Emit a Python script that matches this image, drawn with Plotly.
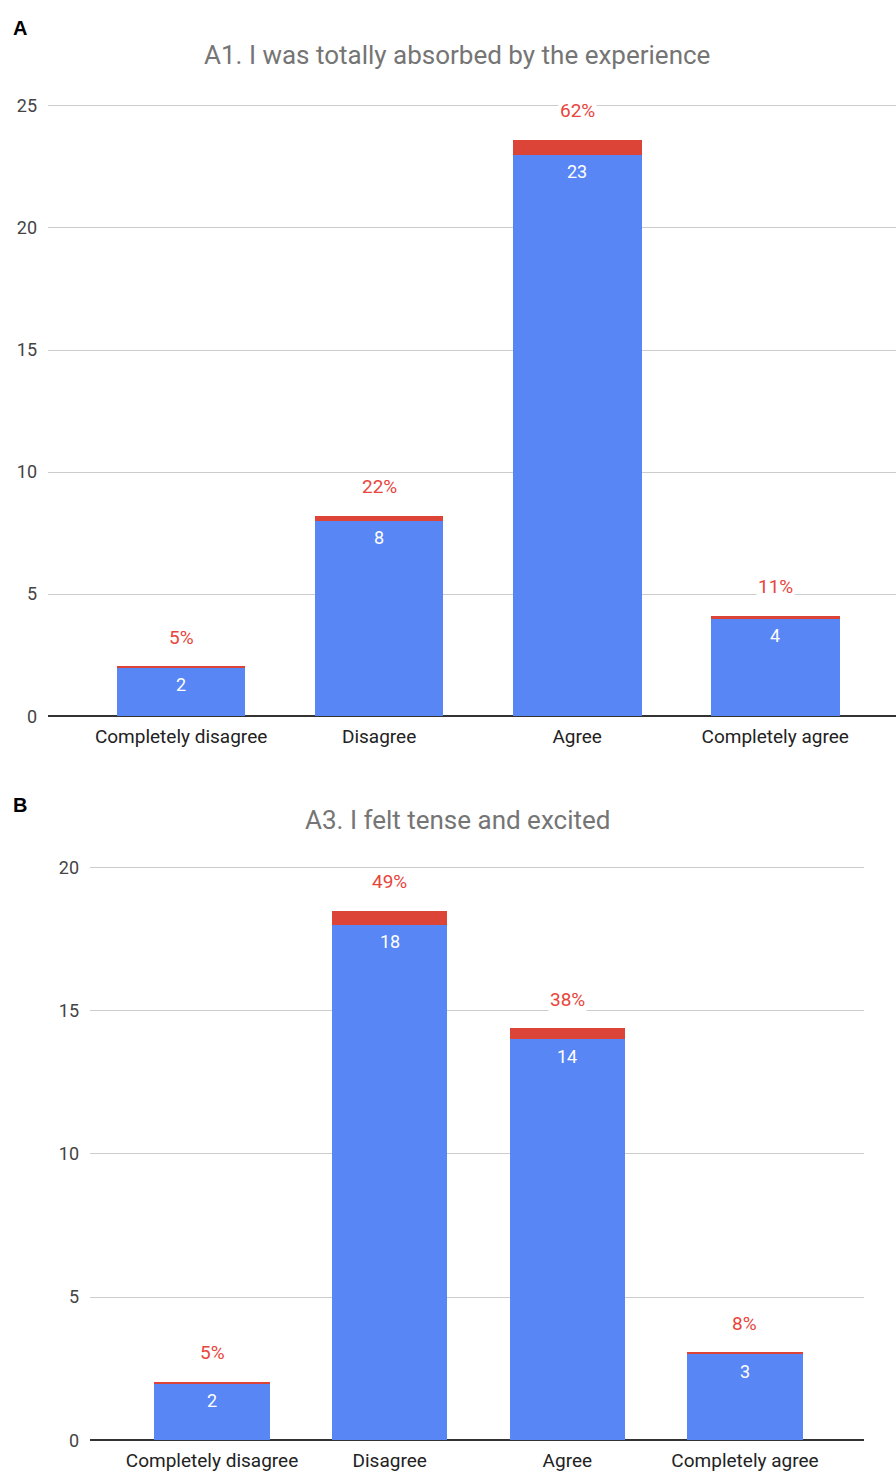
import plotly.graph_objects as go

# Survey responses: number of participants per answer, and share of the total
categories = ["Completely disagree", "Disagree", "Agree", "Completely agree"]
a1_counts = [2, 8, 23, 4]
a1_pct = [5, 22, 62, 11]
a3_counts = [2, 18, 14, 3]
a3_pct = [5, 49, 38, 8]

a1_title = "A1. I was totally absorbed by the experience"
a3_title = "A3. I felt tense and excited"

BLUE = "#5986F5"
RED = "#DB4437"
LABEL_RED = "#E8453C"
FONT = "Roboto, Arial, sans-serif"

H = 1479.0
W = 896.0

fig = go.Figure()


def add_panel(counts, pct, xa, ya):
    fig.add_trace(go.Bar(
        x=categories, y=counts, marker=dict(color=BLUE, line=dict(width=0)),
        width=0.65, xaxis=xa, yaxis=ya, hoverinfo="skip", showlegend=False,
    ))
    fig.add_trace(go.Bar(
        x=categories, y=[p / 100 for p in pct], marker=dict(color=RED, line=dict(width=0)),
        width=0.65, xaxis=xa, yaxis=ya, hoverinfo="skip", showlegend=False,
    ))
    for c, n, p in zip(categories, counts, pct):
        fig.add_annotation(
            x=c, y=n, xref=xa, yref=ya, text=str(n), showarrow=False,
            yanchor="middle", yshift=-17, font=dict(family=FONT, size=18, color="white"),
        )
        fig.add_annotation(
            x=c, y=n + p / 100, xref=xa, yref=ya, text=f"{p}%", showarrow=False,
            yanchor="middle", yshift=29, bgcolor="white", borderpad=1,
            font=dict(family=FONT, size=19, color=LABEL_RED),
        )


add_panel(a1_counts, a1_pct, "x", "y")
add_panel(a3_counts, a3_pct, "x2", "y2")

axis_common = dict(
    showgrid=False, showline=False, zeroline=False, ticks="",
    ticklabelstandoff=7,
    tickfont=dict(family=FONT, size=19, color="#222222"),
    fixedrange=True,
)
yaxis_common = dict(
    showgrid=True, gridcolor="#CCCCCC", gridwidth=1,
    zeroline=True, zerolinecolor="#333333", zerolinewidth=1.5,
    showline=False, ticks="", ticklabelstandoff=10,
    tickfont=dict(family=FONT, size=18, color="#444444"),
    fixedrange=True,
)

fig.update_layout(
    width=int(W), height=int(H),
    margin=dict(l=0, r=0, t=0, b=0),
    paper_bgcolor="white", plot_bgcolor="white",
    barmode="stack", bargap=0.35,
    xaxis=dict(axis_common, domain=[48 / W, 1.0], range=[-0.672, 3.61], anchor="y"),
    yaxis=dict(yaxis_common, domain=[1 - 718 / H, 1 - 96 / H], range=[0, 25.2],
               tickvals=[0, 5, 10, 15, 20, 25], anchor="x"),
    xaxis2=dict(axis_common, domain=[90 / W, 864 / W], range=[-0.687, 3.67], anchor="y2"),
    yaxis2=dict(yaxis_common, domain=[1 - 1450 / H, 1 - 865 / H], range=[0, 20.2],
                tickvals=[0, 5, 10, 15, 20], anchor="x2"),
    font=dict(family=FONT),
)

# Panel titles and letters
fig.add_annotation(x=457 / W, y=1 - 50 / H, xref="paper", yref="paper", text=a1_title,
                   showarrow=False, xanchor="center", yanchor="middle",
                   font=dict(family=FONT, size=26, color="#757575"))
fig.add_annotation(x=457 / W, y=1 - 823 / H, xref="paper", yref="paper", text=a3_title,
                   showarrow=False, xanchor="center", yanchor="middle",
                   font=dict(family=FONT, size=26, color="#757575"))
fig.add_annotation(x=11 / W, y=1 - 22 / H, xref="paper", yref="paper", text="<b>A</b>",
                   showarrow=False, xanchor="left", yanchor="middle",
                   font=dict(family="Liberation Sans, Arial, sans-serif", size=20, color="black"))
fig.add_annotation(x=11 / W, y=1 - 808 / H, xref="paper", yref="paper", text="<b>B</b>",
                   showarrow=False, xanchor="left", yanchor="middle",
                   font=dict(family="Liberation Sans, Arial, sans-serif", size=20, color="black"))

fig.write_html("out.html")
